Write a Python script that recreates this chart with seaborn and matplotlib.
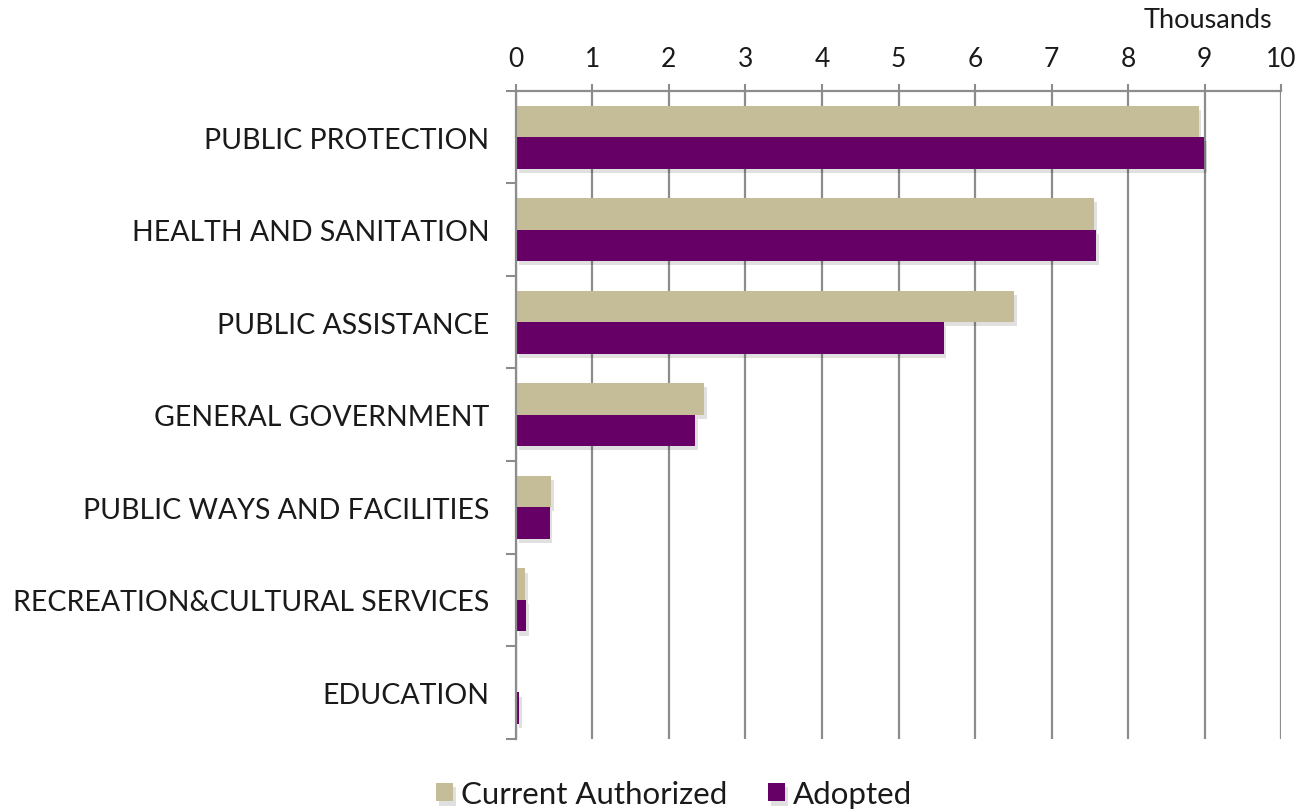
import pandas as pd
import matplotlib.pyplot as plt
import seaborn as sns
from matplotlib import patheffects as pe

# Data (raw values; axis shows thousands)
categories = ['PUBLIC PROTECTION', 'HEALTH AND SANITATION', 'PUBLIC ASSISTANCE',
              'GENERAL GOVERNMENT', 'PUBLIC WAYS AND FACILITIES',
              'RECREATION&CULTURAL SERVICES', 'EDUCATION']
current_authorized = [8920, 7560, 6510, 2460, 460, 120, 10]
adopted = [8990, 7580, 5590, 2340, 440, 130, 40]
series_names = ['Current Authorized', 'Adopted']

df = pd.DataFrame({
    'Category': categories * 2,
    'Series': [series_names[0]] * len(categories) + [series_names[1]] * len(categories),
    'Value': current_authorized + adopted,
})
df['Thousands'] = df['Value'] / 1000

tan = '#C4BD97'
purple = '#660066'
grid_col = '#8C8C8C'
text_col = '#1A1A1A'

sns.set_style('white')
plt.rcParams['font.family'] = ['Lato', 'DejaVu Sans']

fig, ax = plt.subplots(figsize=(13.06, 8.12), dpi=100)
fig.subplots_adjust(left=0.395, right=0.981, top=0.887, bottom=0.089)

sns.barplot(data=df, y='Category', x='Thousands', hue='Series', order=categories,
            hue_order=series_names, palette=[tan, purple], width=0.68,
            orient='h', saturation=1, edgecolor='none', ax=ax, legend=True)

# soft drop shadow like the original
for p in ax.patches:
    p.set_path_effects([pe.SimplePatchShadow(offset=(2, -3), alpha=0.12,
                                             shadow_rgbFace='black'), pe.Normal()])

ax.set_xlim(0, 10)
ax.set_ylim(len(categories) - 0.5, -0.5)
ax.xaxis.tick_top()
ax.set_xticks(range(11))
ax.tick_params(axis='x', which='major', length=5, width=1.5, color=grid_col,
               labelsize=19, pad=9, labelcolor=text_col)
ax.grid(axis='x', color=grid_col, linewidth=1.6)
ax.set_axisbelow(True)

# category labels centred, tick marks at boundaries
ax.set_yticks([i - 0.5 for i in range(len(categories) + 1)], minor=True)
ax.tick_params(axis='y', which='major', length=0, labelsize=20.5, pad=19,
               labelcolor=text_col)
ax.tick_params(axis='y', which='minor', length=7, width=1.5, color=grid_col, left=True)

for side in ['right', 'bottom']:
    ax.spines[side].set_visible(False)
for side in ['left', 'top']:
    ax.spines[side].set_color(grid_col)
    ax.spines[side].set_linewidth(1.6)

ax.set_xlabel('')
ax.set_ylabel('')
fig.text(1272 / 1306, 1 - 20 / 812, 'Thousands', ha='right', va='center',
         fontsize=19.5, color=text_col)

handles, labels = ax.get_legend_handles_labels()
ax.get_legend().remove()
fig.legend(handles, labels, loc='center', bbox_to_anchor=(0.516, 1 - 795 / 812),
           ncol=2, frameon=False, fontsize=22.5, handlelength=0.55, handleheight=0.55,
           handletextpad=0.25, columnspacing=1.3, labelcolor=text_col)

plt.savefig('out.png', dpi=100)
